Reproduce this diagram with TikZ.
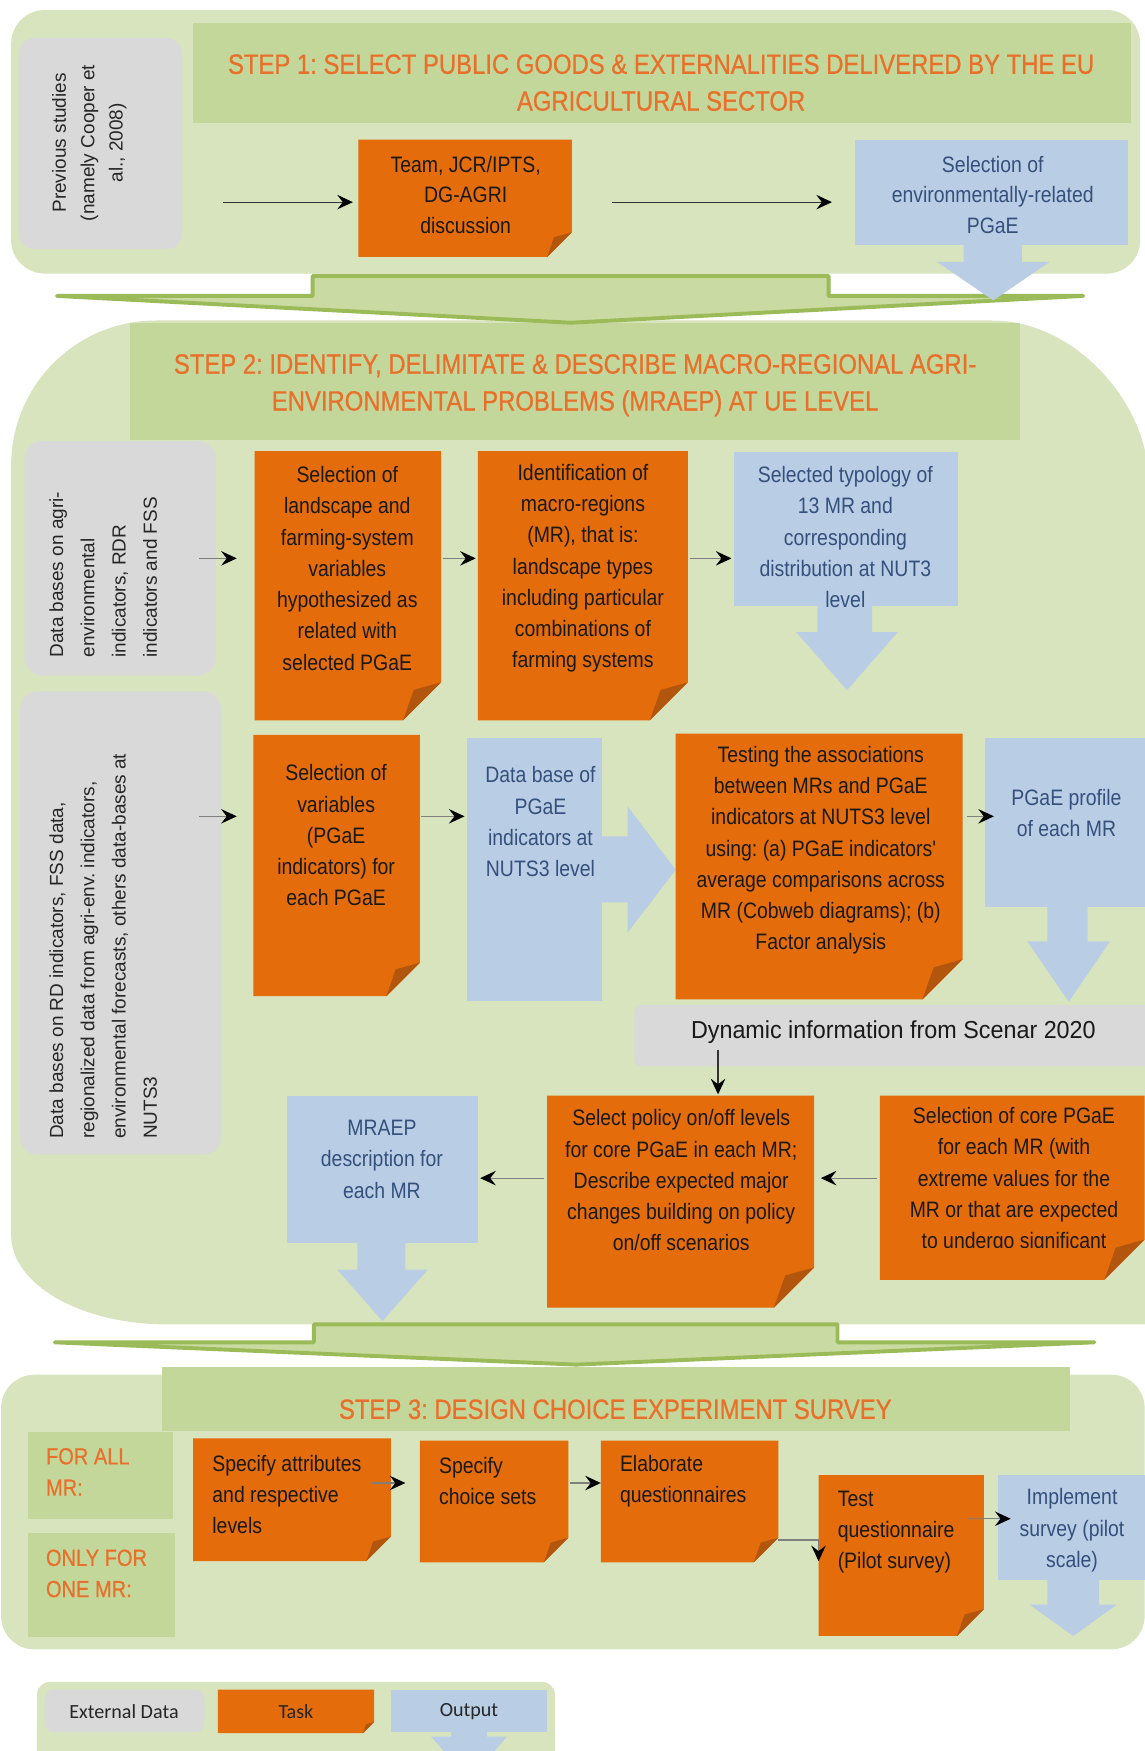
\documentclass[tikz,border=0pt]{standalone}
\usepackage{fontspec}
\setmainfont{Liberation Sans}
\newfontfamily\boxfont[FakeStretch=0.87]{Liberation Sans}
\newfontfamily\headfont[FakeStretch=0.855,FakeBold=0.6]{Liberation Sans}
\newfontfamily\dynfont[FakeStretch=0.95]{Liberation Sans}
\newfontfamily\legfont{Carlito}
\usetikzlibrary{arrows.meta,fit}
\frenchspacing

\definecolor{panelgreen}{HTML}{D7E4BD}
\definecolor{bandgreen}{HTML}{C4D79B}
\definecolor{sepfill}{HTML}{C9DAA2}
\definecolor{sepline}{HTML}{9BBB59}
\definecolor{datagrey}{HTML}{D9D9D9}
\definecolor{taskorange}{HTML}{E46C0A}
\definecolor{taskfold}{HTML}{B2560E}
\definecolor{outblue}{HTML}{B9CDE5}
\definecolor{outtext}{HTML}{35507D}
\definecolor{headorange}{HTML}{E8702A}
\definecolor{linkgrey}{HTML}{7F7F7F}

\tikzset{
  frame/.style={inner sep=0pt, outer sep=0pt},
  boxtext/.style={font=\boxfont\fontsize{20}{28}\selectfont, align=center, inner sep=0pt, text=black!90},
  outlabel/.style={boxtext, text=outtext},
  headtext/.style={font=\headfont\fontsize{25}{33}\selectfont, align=center, inner sep=0pt, text=headorange},
  sidelabel/.style={font=\headfont\fontsize{21}{28}\selectfont, align=left, anchor=west, inner sep=0pt, text=headorange},
  greytext/.style={font=\fontsize{17}{28}\selectfont, rotate=90, inner sep=0pt, text=black!85},
  legtext/.style={font=\legfont\fontsize{18}{20}\selectfont, inner sep=0pt, text=black!85},
  link/.style={draw=linkgrey, line width=1pt, -{Stealth[length=14pt,width=13pt,inset=5pt,color=black,fill=black]}},
  darklink/.style={link, draw=black!80},
  separator/.style={fill=sepfill, draw=sepline, line width=3.5pt, line join=round},
}

% orange task box with a folded bottom-right corner: name, x1, y1, x2, y2, fold
\newcommand\taskbox[6]{%
  \fill[taskorange] (#2,#3) -- (#4,#3) -- (#4,#5-#6) -- (#4-#6,#5) -- (#2,#5) -- cycle;
  \fill[taskfold] (#4,#5-#6) -- (#4-#6,#5) -- (#4-0.72*#6,#5-0.8*#6) -- cycle;
  \node[frame, fit={(#2,#3) (#4,#5)}] (#1) {};
}
% blue output box: name, x1, y1, x2, y2
\newcommand\outbox[5]{%
  \fill[outblue] (#2,#3) rectangle (#4,#5);
  \node[frame, fit={(#2,#3) (#4,#5)}] (#1) {};
}
% grey external data box: name, x1, y1, x2, y2, radius
\newcommand\databox[6]{%
  \fill[datagrey, rounded corners=#6] (#2,#3) rectangle (#4,#5);
  \node[frame, fit={(#2,#3) (#4,#5)}] (#1) {};
}
% blue downward block arrow: shaft x1, shaft x2, top, head x1, head x2, head y, tip y
\newcommand\outdown[7]{%
  \fill[outblue] (#1,#3) -- (#2,#3) -- (#2,#6) -- (#5,#6) -- ({(#4+#5)/2},#7) -- (#4,#6) -- (#1,#6) -- cycle;
}

\begin{document}
\begin{tikzpicture}[x=1pt,y=-1pt]
\useasboundingbox (0,0) rectangle (1025,1568);
\fill[white] (0,0) rectangle (1025,1568);

% ---------- panels ----------
\fill[panelgreen, rounded corners=30] (10,9) rectangle (1021,245);
\fill[panelgreen] (10,417) .. controls (10,345) and (68,287) .. (140,287)
  -- (888,287) .. controls (965,287) and (1028,364) .. (1028,427)
  -- (1028,1186) -- (150,1186) .. controls (72,1186) and (10,1150) .. (10,1106) -- cycle;
\fill[panelgreen, rounded corners=30] (1,1231) rectangle (1025,1477);
\fill[panelgreen, rounded corners=12] (33,1506) rectangle (497,1590);

% ---------- heading bands ----------
\fill[bandgreen] (173,21) rectangle (1013,110);
\fill[bandgreen] (116,289) rectangle (913,394);
\fill[bandgreen] (145,1224) rectangle (958,1281);
\fill[bandgreen] (25,1282) rectangle (155,1360);
\fill[bandgreen] (25,1373) rectangle (157,1466);

% ---------- separators between the steps ----------
\draw[separator] (280,247) -- (742,247) -- (742,265) -- (970,265) -- (511,289)
  -- (51,265) -- (280,265) -- cycle;
\draw[separator] (281,1186) -- (750,1186) -- (750,1202) -- (980,1202) -- (516,1222)
  -- (49,1202) -- (281,1202) -- cycle;

% ---------- step 1 ----------
\databox{g0}{17}{34}{163}{223}{14}
\taskbox{t1}{321}{125}{512}{230}{22}
\outbox{o1}{766}{125}{1010}{219}
\outdown{863}{915}{218}{839}{940}{234.5}{269}

% ---------- step 2 ----------
\databox{g1}{22}{395}{193}{605}{16}
\databox{g2}{18}{619}{198}{1034}{16}
\taskbox{a1}{228}{404}{395}{645}{34}
\taskbox{a2}{428}{404}{616}{645}{34}
\outbox{a3}{657}{405}{858}{543}
\outdown{732}{781}{542}{713}{804}{566}{618}
\taskbox{b1}{227}{658}{376}{892}{30}
\outbox{b2}{418}{661}{539}{896}
\fill[outblue] (538,749) -- (562,749) -- (562,722) -- (605,779) -- (562,835) -- (562,808) -- (538,808) -- cycle;
\taskbox{b3}{605}{657}{862}{895}{36}
\outbox{b4}{882}{661}{1025}{812}
\outdown{938}{974}{811}{920}{994}{843}{897}
\fill[datagrey, rounded corners=6] (568,900) rectangle (1040,955);
\node[frame, fit={(568,900) (1030,955)}] (dyn) {};
\outbox{c1}{257}{981}{428}{1113}
\outdown{320}{363}{1112}{302}{383}{1137}{1183}
\taskbox{c2}{490}{981}{729}{1171}{36}
\taskbox{c3}{788}{981}{1025}{1146}{36}

% ---------- step 3 ----------
\taskbox{d1}{173}{1288}{350}{1398}{22}
\taskbox{d2}{376}{1290}{509}{1399}{22}
\taskbox{d3}{538}{1290}{697}{1399}{22}
\taskbox{d4}{733}{1321}{881}{1465}{24}
\outbox{d5}{894}{1321}{1025}{1415}
\outdown{938}{984}{1414}{922}{1000}{1437}{1465}

% ---------- legend ----------
\databox{lg}{40}{1513}{183}{1551}{8}
\taskbox{lt}{195}{1513}{335}{1552}{10}
\outbox{lo}{350}{1513}{490}{1551}
\outdown{404}{436}{1550}{386}{454}{1555}{1594}

% ---------- connectors ----------
\coordinate (y1) at (0,181);
\coordinate (y2) at (0,500);
\coordinate (y3) at (0,731);
\coordinate (y4) at (0,1055);
\coordinate (y5) at (0,1328);
\coordinate (y6) at (0,1379);
\coordinate (y7) at (0,1398);
\coordinate (y8) at (0,1360);
\coordinate (xd) at (643,0);

\draw[darklink, shorten <=37pt, shorten >=5pt] (g0.east |- y1) -- (t1.west |- y1);
\draw[darklink, shorten <=36pt, shorten >=21pt] (t1.east |- y1) -- (o1.west |- y1);

\draw[link, shorten <=-15pt, shorten >=16pt] (g1.east |- y2) -- (a1.west |- y2);
\draw[link, shorten <=2pt, shorten >=2pt] (a1.east |- y2) -- (a2.west |- y2);
\draw[link, shorten <=2pt, shorten >=2pt] (a2.east |- y2) -- (a3.west |- y2);

\draw[link, shorten <=-20pt, shorten >=15pt] (g2.east |- y3) -- (b1.west |- y3);
\draw[link, shorten <=1pt, shorten >=2pt] (b1.east |- y3) -- (b2.west |- y3);
\draw[link, shorten <=4pt, shorten >=-8pt] (b3.east |- y3) -- (b4.west |- y3);

\draw[darklink, shorten <=-15pt, shorten >=1pt] (dyn.south -| xd) -- (c2.north -| xd);
\draw[link, shorten <=3pt, shorten >=6pt] (c3.west |- y4) -- (c2.east |- y4);
\draw[link, shorten <=3pt, shorten >=2pt] (c2.west |- y4) -- (c1.east |- y4);

\draw[link, shorten <=-17pt, shorten >=13pt] (d1.east |- y5) -- (d2.west |- y5);
\draw[link, shorten <=1pt] (d2.east |- y5) -- (d3.west |- y5);
\draw[link] (d3.east |- y6) -| (d4.west |- y7);
\draw[link, shorten <=-15pt, shorten >=-11pt] (d4.east |- y8) -- (d5.west |- y8);

% ---------- headings ----------
\node[headtext] (h1) at (592,74) {STEP 1: SELECT PUBLIC GOODS \& EXTERNALITIES DELIVERED BY THE EU\\AGRICULTURAL SECTOR};
\node[headtext] (h2) at (515,345) {STEP 2: IDENTIFY, DELIMITATE \& DESCRIBE MACRO-REGIONAL AGRI-\\ENVIRONMENTAL PROBLEMS (MRAEP) AT UE LEVEL};
\node[headtext] (h3) at (551,1262) {STEP 3: DESIGN CHOICE EXPERIMENT SURVEY};
\node[sidelabel] (forall) at (41,1318) {FOR ALL\\MR:};
\node[sidelabel] (forone) at (41,1409) {ONLY FOR\\ONE MR:};

% ---------- external data texts ----------
\node[greytext, align=center, font=\fontsize{17}{25.5}\selectfont] (g0-t) at (80,128) {Previous studies\\(namely Cooper et\\al., 2008)};
\node[greytext, align=left, anchor=north west] (g1-t) at (44,589) {Data bases on agri-\\environmental\\indicators, RDR\\indicators and FSS};
\node[greytext, align=left, anchor=north west] (g2-t) at (44,1020) {Data bases on RD indicators, FSS data,\\regionalized data from agri-env. indicators,\\environmental forecasts, others data-bases at\\NUTS3};
\node[font=\dynfont\fontsize{22}{26}\selectfont, inner sep=0pt, text=black!90] (dyn-t) at (800,924) {Dynamic information from Scenar 2020};

% ---------- task and output texts ----------
\node[boxtext, font=\boxfont\fontsize{20}{27.5}\selectfont] (t1-t) at (417,174.5) {Team, JCR/IPTS,\\DG-AGRI\\discussion};
\node[outlabel, font=\boxfont\fontsize{20}{27.5}\selectfont] (o1-t) at (889,174.5) {Selection of\\environmentally-related\\PGaE};

\node[boxtext] (a1-t) at (311,509) {Selection of\\landscape and\\farming-system\\variables\\hypothesized as\\related with\\selected PGaE};
\node[boxtext] (a2-t) at (522,509) {Identification of\\macro-regions\\(MR), that is:\\landscape types\\including particular\\combinations of\\farming systems};
\node[outlabel] (a3-t) at (757,481) {Selected typology of\\13 MR and\\corresponding\\distribution at NUT3\\level};
\node[boxtext] (b1-t) at (301,748) {Selection of\\variables\\(PGaE\\indicators) for\\each PGaE};
\node[outlabel] (b2-t) at (484,736) {Data base of\\PGaE\\indicators at\\NUTS3 level};
\node[boxtext] (b3-t) at (735,761.5) {Testing the associations\\between MRs and PGaE\\indicators at NUTS3 level\\using: (a) PGaE indicators'\\average comparisons across\\MR (Cobweb diagrams); (b)\\Factor analysis};
\node[outlabel] (b4-t) at (955,728) {PGaE profile\\of each MR};
\node[outlabel] (c1-t) at (342,1038) {MRAEP\\description for\\each MR};
\node[boxtext] (c2-t) at (610,1057) {Select policy on/off levels\\for core PGaE in each MR;\\Describe expected major\\changes building on policy\\on/off scenarios};
\begin{scope}
  \clip (780,975) rectangle (1030,1117);
  \node[boxtext] (c3-t) at (908,1057) {Selection of core PGaE\\for each MR (with\\extreme values for the\\MR or that are expected\\to undergo significant};
\end{scope}

\node[boxtext, align=left, anchor=west] (d1-t) at (190,1338.5) {Specify attributes\\and respective\\levels};
\node[boxtext, align=left, anchor=west] (d2-t) at (393,1326.5) {Specify\\choice sets};
\node[boxtext, align=left, anchor=west] (d3-t) at (555,1326.5) {Elaborate\\questionnaires};
\node[boxtext, align=left, anchor=west] (d4-t) at (750,1372) {Test\\questionnaire\\(Pilot survey)};
\node[outlabel] (d5-t) at (960,1370.5) {Implement\\survey (pilot\\scale)};

% ---------- legend texts ----------
\node[legtext] (lg-t) at (111,1533) {External Data};
\node[legtext] (lt-t) at (265,1533) {Task};
\node[legtext] (lo-t) at (420,1533) {Output};
\end{tikzpicture}
\end{document}
